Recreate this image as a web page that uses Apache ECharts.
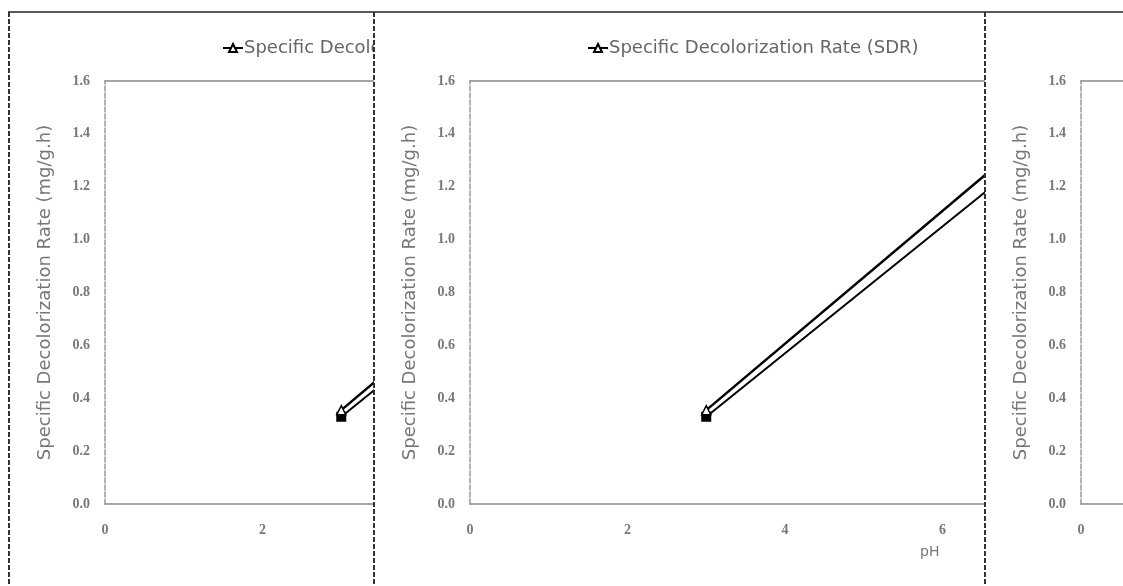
<!DOCTYPE html>
<html>
<head>
<meta charset="utf-8">
<script src="https://cdn.jsdelivr.net/npm/echarts@6/dist/echarts.min.js"></script>
<style>
  html, body { margin: 0; padding: 0; background: #fff; width: 1123px; height: 586px; overflow: hidden; }
  .panel { position: absolute; top: 0; height: 586px; overflow: hidden; }
  .inner { position: absolute; left: 0; top: 0; width: 1000px; height: 586px; }
  #overlay { position: absolute; left: 0; top: 0; width: 1123px; height: 586px; pointer-events: none; }
</style>
</head>
<body>
<div class="panel" style="left:9px;width:365px"><div class="inner" id="c1"></div></div>
<div class="panel" style="left:374px;width:611px"><div class="inner" id="c2"></div></div>
<div class="panel" style="left:985px;width:138px"><div class="inner" id="c3"></div></div>
<div id="overlay"></div>
<script>
// ---- data ----
const seriesName = 'Specific Decolorization Rate (SDR)';
const phValues = [3, 7];
const sdrTriangle = [0.355, 1.36];
const sdrSquare = [0.33, 1.29];
const yAxisTitle = 'Specific Decolorization Rate (mg/g.h)';
const xAxisTitle = 'pH';

function pairs(xs, ys) { return xs.map((x, i) => [x, ys[i]]); }

function buildOption() {
  return {
    animation: false,
    backgroundColor: 'transparent',
    legend: {
      left: 208, top: 34,
      data: [seriesName],
      itemWidth: 20, itemHeight: 10, itemGap: 4,
      textStyle: { fontFamily: 'DejaVu Sans', fontSize: 18, color: '#666', padding: [0, 0, 0, -4] }
    },
    grid: { left: 96, top: 81, width: 630, height: 423, show: false },
    xAxis: [{
      type: 'value', min: 0, max: 8, interval: 2, position: 'bottom',
      axisLine: { show: true, lineStyle: { color: '#888', width: 1.5 } },
      axisTick: { show: false }, splitLine: { show: false },
      axisLabel: { margin: 19, fontFamily: 'Liberation Serif', fontWeight: 'bold', fontSize: 14, color: '#777' }
    }, {
      type: 'value', min: 0, max: 8, position: 'top',
      axisLine: { show: true, onZero: false, lineStyle: { color: '#888', width: 1.5 } },
      axisTick: { show: false }, axisLabel: { show: false }, splitLine: { show: false }
    }],
    yAxis: {
      type: 'value', min: 0, max: 1.6, interval: 0.2,
      name: yAxisTitle, nameLocation: 'middle', nameGap: 51, nameRotate: 90,
      nameTextStyle: { fontFamily: 'DejaVu Sans', fontSize: 18, color: '#777' },
      axisLine: { show: true, lineStyle: { color: '#999', width: 1.5, type: [5, 2] } },
      axisTick: { show: false }, splitLine: { show: false },
      axisLabel: { margin: 15, formatter: v => v.toFixed(1), fontFamily: 'Liberation Serif', fontWeight: 'bold', fontSize: 14, color: '#777' }
    },
    graphic: [{
      type: 'text', left: 546, top: 545,
      style: { text: xAxisTitle, fontFamily: 'DejaVu Sans', fontSize: 14, fill: '#777' }
    }],
    series: [{
      name: seriesName, type: 'line', data: pairs(phValues, sdrTriangle),
      symbol: 'triangle', symbolSize: 9, z: 3,
      lineStyle: { color: '#000', width: 2.5 },
      itemStyle: { color: '#fff', borderColor: '#000', borderWidth: 1.5 }
    }, {
      name: 'SDR square', type: 'line', data: pairs(phValues, sdrSquare),
      symbol: 'rect', symbolSize: 10, z: 2,
      lineStyle: { color: '#000', width: 2 },
      itemStyle: { color: '#000' }
    }]
  };
}

['c1', 'c2', 'c3'].forEach(id => {
  const ch = echarts.init(document.getElementById(id), null, { renderer: 'canvas' });
  ch.setOption(buildOption());
});

const ov = echarts.init(document.getElementById('overlay'));
const dash = { stroke: '#333', lineWidth: 2, lineDash: [5, 2] };
ov.setOption({
  animation: false,
  graphic: [
    { type: 'line', shape: { x1: 8, y1: 12, x2: 1123, y2: 12 }, style: { stroke: '#222', lineWidth: 1.5 } },
    { type: 'line', shape: { x1: 9, y1: 12, x2: 9, y2: 586 }, style: dash },
    { type: 'line', shape: { x1: 374, y1: 12, x2: 374, y2: 586 }, style: dash },
    { type: 'line', shape: { x1: 985, y1: 12, x2: 985, y2: 586 }, style: dash }
  ]
});
</script>
</body>
</html>
